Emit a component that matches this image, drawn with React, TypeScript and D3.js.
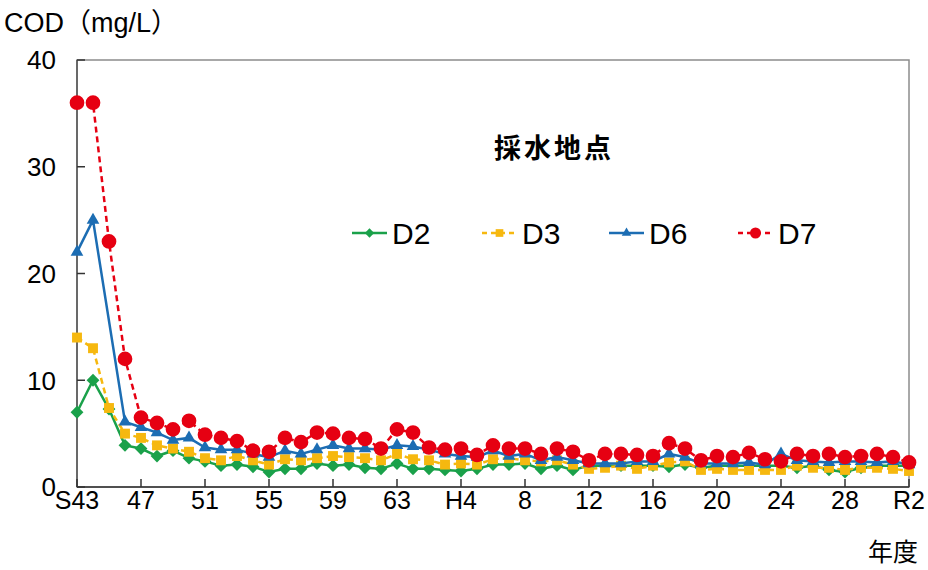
import React from 'react';
import * as d3 from 'd3';

// fiscal years S43 (1968) .. R2 (2020)
const fiscalYears = [
  'S43', 'S44', 'S45', 'S46', 'S47', 'S48', 'S49', 'S50', 'S51', 'S52', 'S53', 'S54', 'S55', 'S56', 'S57',
  'S58', 'S59', 'S60', 'S61', 'S62', 'S63', 'H1', 'H2', 'H3', 'H4', 'H5', 'H6', 'H7', 'H8', 'H9', 'H10',
  'H11', 'H12', 'H13', 'H14', 'H15', 'H16', 'H17', 'H18', 'H19', 'H20', 'H21', 'H22', 'H23', 'H24', 'H25',
  'H26', 'H27', 'H28', 'H29', 'H30', 'R1', 'R2',
];

const tickYears = ['S43', 'S47', 'S51', 'S55', 'S59', 'S63', 'H4', 'H8', 'H12', 'H16', 'H20', 'H24', 'H28', 'R2'];
const tickLabels = ['S43', '47', '51', '55', '59', '63', 'H4', '8', '12', '16', '20', '24', '28', 'R2'];
const yTicks = [0, 10, 20, 30, 40];

const d2 = [
  7.0, 10.0, 7.3, 3.9, 3.6, 2.9, 3.4, 2.7, 2.4, 2.0, 2.1, 1.9, 1.4, 1.7, 1.7, 2.2, 2.0, 2.1, 1.8, 1.7,
  2.2, 1.7, 1.7, 1.6, 1.5, 1.7, 2.1, 2.1, 2.2, 1.7, 2.0, 1.6, 2.0, 2.0, 2.0, 2.0, 2.0, 1.9, 2.1, 1.8,
  2.0, 2.0, 2.0, 2.0, 2.0, 1.8, 2.0, 1.6, 1.4, 1.8, 2.0, 2.0, 2.0,
];
const d3v = [
  14.0, 13.0, 7.4, 5.0, 4.6, 3.9, 3.6, 3.3, 2.7, 2.5, 2.9, 2.5, 2.1, 2.6, 2.5, 2.7, 2.9, 2.8, 2.7, 2.5,
  3.1, 2.6, 2.5, 2.1, 2.2, 2.1, 2.6, 2.7, 2.5, 2.4, 2.5, 2.1, 1.7, 1.8, 2.0, 1.7, 2.0, 2.3, 2.4, 1.6,
  1.7, 1.6, 1.6, 1.6, 1.6, 2.0, 1.8, 1.8, 1.6, 1.8, 1.8, 1.7, 1.5,
];
const d6 = [
  22.0, 25.0, null, 6.1, 5.6, 5.1, 4.4, 4.6, 3.7, 3.5, 3.5, 3.1, 2.8, 3.4, 3.1, 3.5, 3.9, 3.6, 3.6, 3.5,
  3.9, 3.8, 3.5, 3.1, 2.9, 2.8, 3.4, 2.9, 3.1, 2.5, 2.8, 2.5, 2.2, 2.2, 2.2, 2.4, 2.4, 3.1, 2.8, 2.2,
  2.2, 2.2, 2.3, 2.1, 3.1, 2.5, 2.4, 2.3, 2.4, 2.4, 2.3, 2.4, 2.1,
];
const d7 = [
  36.0, 36.0, 23.0, 12.0, 6.5, 6.0, 5.4, 6.2, 4.9, 4.6, 4.3, 3.4, 3.3, 4.6, 4.2, 5.1, 5.0, 4.6, 4.5, 3.6,
  5.4, 5.1, 3.7, 3.5, 3.6, 3.0, 3.9, 3.6, 3.6, 3.1, 3.6, 3.3, 2.5, 3.1, 3.1, 3.0, 2.9, 4.1, 3.6, 2.5,
  2.9, 2.8, 3.2, 2.6, 2.4, 3.1, 2.9, 3.1, 2.8, 2.9, 3.1, 2.8, 2.3,
];

type Series = { name: string; values: (number | null)[]; color: string; dash?: string; symbol: d3.SymbolType; size: number; legendSize: number };

const series: Series[] = [
  { name: 'D2', values: d2, color: '#1aa14a', symbol: d3.symbolDiamond2, size: 105, legendSize: 55 },
  { name: 'D3', values: d3v, color: '#f6b80f', dash: '6,4', symbol: d3.symbolSquare2, size: 125, legendSize: 75 },
  { name: 'D6', values: d6, color: '#1c6db3', symbol: d3.symbolTriangle2, size: 115, legendSize: 65 },
  { name: 'D7', values: d7, color: '#e60012', dash: '6,4', symbol: d3.symbolCircle, size: 170, legendSize: 95 },
];

const W = 928;
const H = 570;
const left = 77;
const right = 909;
const top = 60;
const bottom = 487;

const latin = '"Liberation Sans", Arial, "Noto Sans CJK JP", sans-serif';
const cjk = '"Noto Sans CJK JP", sans-serif';

export default function App() {
  const x = d3.scalePoint<string>().domain(fiscalYears).range([left, right]);
  const y = d3.scaleLinear().domain([0, 40]).range([bottom, top]);

  const legendX = [352, 482, 609, 738];

  return (
    <svg width={W} height={H} style={{ position: 'absolute', left: 0, top: 0, background: '#fff' }}>
      <text x={4} y={32} fontFamily={latin} fontSize={27} fill="#000">COD（mg/L）</text>

      {/* box */}
      <rect x={left} y={top} width={right - left} height={bottom - top} fill="none" stroke="#8c8c8c" strokeWidth={1.5} />
      <line x1={left} y1={bottom} x2={right} y2={bottom} stroke="#333" strokeWidth={1.5} />
      <line x1={left} y1={top} x2={left} y2={bottom} stroke="#555" strokeWidth={1.5} />

      {yTicks.map(t => (
        <g key={t}>
          <line x1={left} x2={left + 8} y1={y(t)} y2={y(t)} stroke="#333" strokeWidth={1.5} />
          <text x={56} y={y(t)} dy="0.36em" textAnchor="end" fontFamily={latin} fontSize={26} fill="#000">{t}</text>
        </g>
      ))}

      {tickYears.map((t, i) => (
        <g key={t}>
          <line x1={x(t)} x2={x(t)} y1={bottom} y2={bottom - 8} stroke="#333" strokeWidth={1.5} />
          <text x={x(t)} y={bottom + 13} dy="0.36em" textAnchor="middle" fontFamily={latin} fontSize={25} fill="#000">{tickLabels[i]}</text>
        </g>
      ))}
      <text x={918} y={561} textAnchor="end" fontFamily={cjk} fontSize={25} fill="#000">年度</text>

      {series.map(s => {
        const pts = s.values
          .map((v, i) => ({ cat: fiscalYears[i], v }))
          .filter(p => p.v !== null) as { cat: string; v: number }[];
        const line = d3.line<{ cat: string; v: number }>()
          .x(p => x(p.cat)!)
          .y(p => y(p.v));
        const sym = d3.symbol().type(s.symbol).size(s.size);
        return (
          <g key={s.name}>
            <path d={line(pts) || ''} fill="none" stroke={s.color} strokeWidth={2.5} strokeDasharray={s.dash} />
            {pts.map(p => (
              <path key={p.cat} d={sym() || ''} transform={`translate(${x(p.cat)},${y(p.v)})`} fill={s.color} />
            ))}
          </g>
        );
      })}

      {/* legend */}
      <text x={554} y={148} dy="0.36em" textAnchor="middle" fontFamily={cjk} fontWeight="bold" fontSize={27} letterSpacing={3} fill="#000">採水地点</text>
      {series.map((s, i) => {
        const lx = legendX[i];
        const sym = d3.symbol().type(s.symbol).size(s.legendSize);
        return (
          <g key={s.name} transform={`translate(${lx},233)`}>
            <line x1={0} x2={35} y1={0} y2={0} stroke={s.color} strokeWidth={2.5} strokeDasharray={s.dash ? '5,4' : undefined} />
            <path d={sym() || ''} transform="translate(17.5,0)" fill={s.color} />
            <text x={40} y={0} dy="0.36em" fontFamily={latin} fontSize={30} fill="#000">{s.name}</text>
          </g>
        );
      })}
    </svg>
  );
}
